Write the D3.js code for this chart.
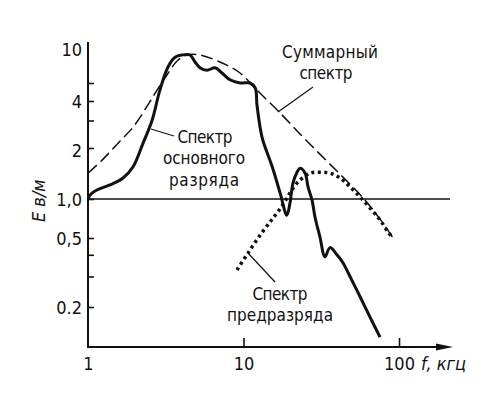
<!DOCTYPE html>
<html>
<head>
<meta charset="utf-8">
<script src="https://cdn.jsdelivr.net/npm/d3@7"></script>
<style>
  body { margin: 0; background: #fff; }
  svg { display: block; }
  text { font-family: "Liberation Sans Narrow", "DejaVu Sans Condensed", "Liberation Sans", sans-serif; fill: #111; }
</style>
</head>
<body>
<div id="chart"></div>
<script>
const width = 500;
const height = 395;

// основной разряд (solid)
const fMain = [1.0, 1.045, 1.14, 1.385, 1.68, 1.95, 2.26, 2.58, 2.9, 3.27, 3.63, 4.02, 4.53, 4.88, 5.25,
  5.82, 6.56, 7.27, 8.19, 9.5, 11.0, 11.9, 12.2, 12.8, 13.3, 15.3, 17.2, 19.0, 19.9, 20.8, 22.1, 23.1,
  24.9, 26.0, 27.6, 28.8, 31.0, 33.4, 36.0, 39.9, 43.6, 48.4, 56.1, 65.1, 75.5];
const eMain = [1.0, 1.07, 1.13, 1.21, 1.33, 1.55, 2.15, 3.0, 4.58, 6.7, 8.0, 8.33, 8.33, 7.33, 6.6,
  6.3, 6.6, 6.0, 5.3, 5.0, 5.0, 4.7, 3.8, 2.7, 2.25, 1.55, 1.085, 0.75, 0.93, 1.24, 1.44, 1.52,
  1.42, 1.18, 0.98, 0.73, 0.51, 0.39, 0.44, 0.40, 0.36, 0.30, 0.23, 0.175, 0.134];

// суммарный спектр (dashed)
const fSum = [1.0, 1.25, 1.61, 1.95, 2.4, 2.78, 3.22, 3.74, 4.33, 5.25, 7.06, 9.5, 12.2, 17.2, 23.1,
  31.0, 41.8, 53.7, 65.1, 78.9, 91.5];
const eSum = [1.42, 1.72, 2.22, 2.72, 3.71, 4.58, 5.79, 7.47, 8.33, 8.33, 7.33, 6.0, 4.58, 3.35, 2.46,
  1.84, 1.40, 1.11, 0.88, 0.65, 0.5];

// предразряд (dotted)
const fPre = [9.08, 10.7, 13.1, 15.5, 17.9, 19.9, 22.4, 26.8, 31.0, 36.0, 41.8, 48.4, 56.1, 65.1, 75.5, 85.0, 91.5];
const ePre = [0.327, 0.41, 0.547, 0.713, 0.899, 1.085, 1.26, 1.42, 1.44, 1.42, 1.33, 1.18, 1.03, 0.852, 0.689, 0.556, 0.5];

const yTicks = [0.2, 0.3, 0.4, 0.5, 1, 2, 3, 4, 5, 10];
const yLabels = { 0.2: "0.2", 0.5: "0,5", 1: "1,0", 2: "2", 4: "4", 10: "10" };
const xTicks = [1, 10, 100];

const svg = d3.select("#chart")
    .append("svg")
    .attr("width", width)
    .attr("height", height);

const axisLeftX = 88, axisBottomY = 347, axisTopY = 42, axisEnd = 453;

const x = d3.scaleLog()
    .domain([1, 100])
    .range([axisLeftX, 399]);

// hand-drawn log axis: piecewise to follow the printed ticks
const y = d3.scaleLog()
    .domain([0.2, 0.5, 1, 2, 4, 5, 10])
    .range([307, 238, 199, 148, 101, 83, 45]);

const line = d3.line()
    .x(d => x(d[0]))
    .y(d => y(d[1]))
    .curve(d3.curveCatmullRom.alpha(0.5));

// axes
svg.append("line")
    .attr("x1", axisLeftX).attr("x2", axisLeftX)
    .attr("y1", axisTopY).attr("y2", axisBottomY)
    .attr("stroke", "#111").attr("stroke-width", 2);

svg.append("line")
    .attr("x1", axisLeftX - 1).attr("x2", axisEnd - 10)
    .attr("y1", axisBottomY).attr("y2", axisBottomY)
    .attr("stroke", "#111").attr("stroke-width", 2);

svg.append("path")
    .attr("d", `M${axisEnd},${axisBottomY} L${axisEnd - 17},${axisBottomY - 3.5} L${axisEnd - 17},${axisBottomY + 3.5} Z`)
    .attr("fill", "#111");

const yAxis = svg.append("g")
    .attr("transform", `translate(${axisLeftX},0)`)
    .call(d3.axisLeft(y)
        .tickValues(yTicks)
        .tickSize(-6)
        .tickPadding(6)
        .tickFormat(d => yLabels[d] || ""));
yAxis.select(".domain").remove();
yAxis.selectAll(".tick line").attr("stroke", "#111").attr("stroke-width", 1.6)
    .filter(d => d === 10).remove();
yAxis.selectAll(".tick text")
    .attr("font-size", 18)
    .attr("font-family", null)
    .attr("dy", d => d === 10 ? "0.6em" : d === 2 ? "0.45em" : "0.35em");

const xAxis = svg.append("g")
    .attr("transform", `translate(0,${axisBottomY})`)
    .call(d3.axisBottom(x)
        .tickValues(xTicks)
        .tickSize(-9)
        .tickPadding(10)
        .tickFormat(d3.format("d")));
xAxis.select(".domain").remove();
xAxis.selectAll(".tick line").attr("stroke", "#111").attr("stroke-width", 1.6)
    .filter(d => d === 1).remove();
xAxis.selectAll(".tick text")
    .attr("font-size", 18)
    .attr("font-family", null);

// axis titles
svg.append("text")
    .attr("x", 421).attr("y", 370)
    .attr("font-size", 18)
    .attr("font-style", "italic")
    .text("f, кгц");

svg.append("text")
    .attr("transform", "translate(45,222) rotate(-90)")
    .attr("font-size", 18)
    .attr("font-style", "italic")
    .text("E в/м");

// reference line at 1.0
svg.append("line")
    .attr("x1", axisLeftX).attr("x2", 450)
    .attr("y1", y(1)).attr("y2", y(1))
    .attr("stroke", "#111").attr("stroke-width", 1.5);

// curves
svg.append("path")
    .datum(d3.zip(fSum, eSum))
    .attr("d", line)
    .attr("fill", "none")
    .attr("stroke", "#111")
    .attr("stroke-width", 1.5)
    .attr("stroke-dasharray", "12,5");

svg.append("path")
    .datum(d3.zip(fPre, ePre))
    .attr("d", line)
    .attr("fill", "none")
    .attr("stroke", "#111")
    .attr("stroke-width", 3.5)
    .attr("stroke-dasharray", "3,3.5");

svg.append("path")
    .datum(d3.zip(fMain, eMain))
    .attr("d", line)
    .attr("fill", "none")
    .attr("stroke", "#111")
    .attr("stroke-width", 3)
    .attr("stroke-linejoin", "round");

// annotations
const notes = [
    { t: "Суммарный", x: 330, y: 58, w: 96 },
    { t: "спектр", x: 326, y: 79, w: 53 },
    { t: "Спектр", x: 205, y: 143, w: 55 },
    { t: "основного", x: 204, y: 164, w: 82 },
    { t: "разряда", x: 204, y: 186, w: 70 },
    { t: "Спектр", x: 280, y: 300, w: 55 },
    { t: "предразряда", x: 280, y: 321, w: 106 }
];
svg.selectAll("text.note")
    .data(notes)
    .enter().append("text")
    .attr("class", "note")
    .attr("x", d => d.x)
    .attr("y", d => d.y)
    .attr("text-anchor", "middle")
    .attr("font-size", 17)
    .attr("textLength", d => d.w)
    .attr("lengthAdjust", "spacing")
    .text(d => d.t);

const leaders = [
    [[313, 87], [278, 112]],
    [[151, 129], [174, 136]],
    [[248, 253], [275, 282]]
];
svg.selectAll("line.leader")
    .data(leaders)
    .enter().append("line")
    .attr("class", "leader")
    .attr("x1", d => d[0][0]).attr("y1", d => d[0][1])
    .attr("x2", d => d[1][0]).attr("y2", d => d[1][1])
    .attr("stroke", "#111")
    .attr("stroke-width", 1.2);
</script>
</body>
</html>
